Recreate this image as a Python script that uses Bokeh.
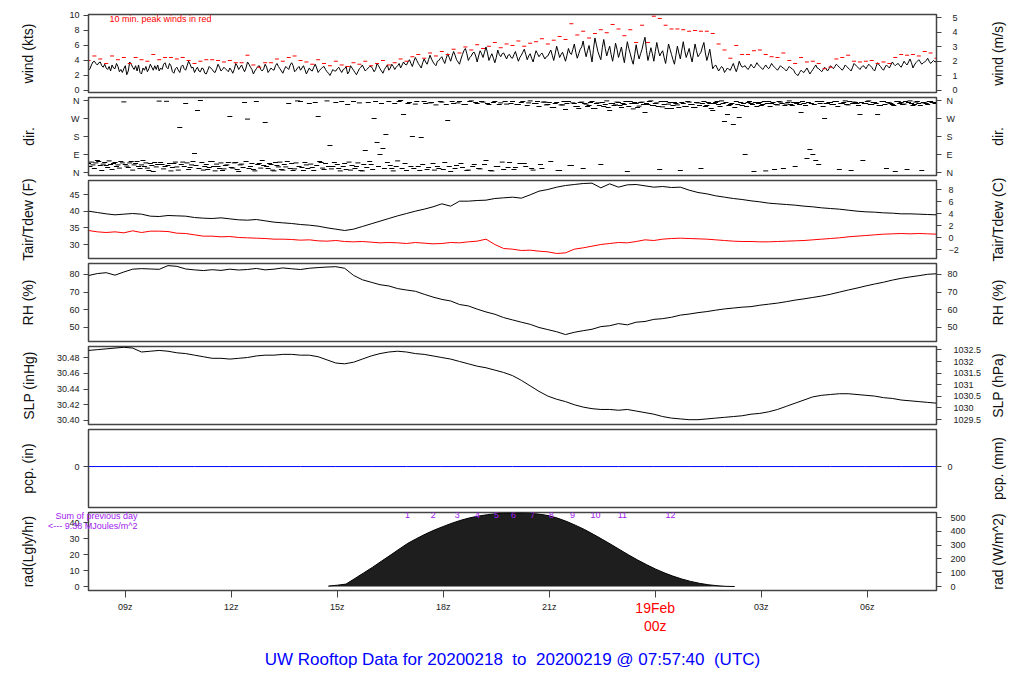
import math
import numpy as np
from bokeh.plotting import figure
from bokeh.layouts import column, row
from bokeh.models import Range1d, LinearAxis, FixedTicker, Title
from bokeh.core.properties import value
from bokeh.embed import file_html
from bokeh.resources import INLINE

# ---------------- data ----------------
T0 = 7 + 57 / 60 + 40 / 3600          # 07:57:40 UTC, 18 Feb (hours)
T1 = T0 + 24

# wind speed (kts), 2.5-minute samples from T0 (one row per hour)
wind_kts = [
    2.7, 2.9, 3.4, 3.8, 3.9, 3.6, 3.4, 3.7, 3.8, 3.3, 3.1, 3.5, 3.0, 2.8, 3.2, 2.6, 3.4, 3.0, 2.9, 3.6, 3.2, 2.5, 2.8, 2.4,
    2.9, 3.3, 2.1, 2.6, 3.8, 3.5, 3.1, 2.8, 3.3, 2.6, 3.4, 2.4, 2.2, 3.0, 2.7, 3.2, 2.5, 2.9, 3.5, 3.1, 2.7, 3.3, 2.8, 3.4,
    2.6, 3.0, 2.8, 3.5, 3.7, 3.1, 2.9, 3.6, 3.3, 2.5, 2.3, 2.9, 3.1, 2.7, 2.4, 3.2, 3.4, 2.9, 2.7, 3.3, 3.9, 3.5, 3.0, 3.1,
    2.4, 2.8, 3.1, 2.6, 2.5, 3.0, 2.9, 2.3, 2.2, 2.7, 3.2, 3.0, 2.8, 2.5, 2.4, 2.9, 3.5, 3.1, 2.6, 2.8, 3.1, 2.9, 2.7, 2.5,
    3.0, 2.7, 2.3, 2.8, 3.6, 3.3, 2.8, 3.1, 3.4, 2.9, 2.5, 3.0, 3.8, 3.5, 3.1, 2.8, 2.2, 2.6, 2.9, 3.2, 3.3, 2.8, 2.6, 2.9,
    3.5, 3.1, 2.4, 2.7, 3.0, 2.8, 2.7, 3.3, 3.6, 3.2, 2.9, 2.6, 2.3, 2.8, 3.2, 3.0, 2.8, 3.4, 3.7, 3.3, 2.5, 2.7, 3.0, 3.2,
    2.7, 3.0, 3.3, 2.8, 2.2, 2.6, 3.0, 2.7, 2.6, 3.1, 3.5, 3.0, 2.4, 2.7, 2.9, 3.1, 3.2, 2.8, 2.5, 2.3, 2.0, 2.4, 2.8, 2.6,
    2.6, 2.9, 3.1, 2.7, 2.4, 2.8, 2.9, 3.2, 2.2, 2.5, 3.3, 3.0, 2.7, 2.4, 2.1, 2.5, 2.9, 3.1, 3.4, 3.0, 2.6, 2.8, 3.0, 3.2,
    3.2, 2.9, 2.5, 2.8, 3.6, 3.3, 2.9, 2.6, 2.3, 2.8, 3.1, 3.4, 2.7, 3.0, 3.5, 3.2, 2.8, 3.1, 3.3, 3.6, 3.0, 3.4, 3.8, 3.5,
    3.4, 3.8, 4.1, 3.6, 3.2, 3.9, 4.4, 4.0, 3.6, 3.3, 3.0, 3.7, 4.2, 3.8, 3.5, 4.1, 4.7, 4.2, 3.8, 3.5, 3.3, 3.9, 4.0, 4.3,
    4.5, 4.0, 3.6, 4.3, 4.9, 4.4, 3.9, 4.6, 5.2, 4.7, 4.1, 3.8, 3.5, 4.2, 4.8, 5.3, 5.6, 4.9, 4.0, 4.4, 4.6, 5.0, 5.1, 4.6,
    3.8, 4.6, 5.3, 4.9, 4.4, 5.1, 5.8, 5.0, 4.0, 4.5, 4.9, 4.3, 3.7, 4.4, 5.4, 4.8, 4.5, 4.9, 5.0, 4.6, 4.2, 4.7, 4.8, 4.4,
    4.3, 4.8, 5.2, 4.5, 3.9, 4.4, 4.7, 5.1, 5.5, 4.8, 4.1, 4.6, 4.9, 4.3, 3.8, 4.6, 5.3, 4.9, 4.5, 4.8, 5.0, 4.6, 4.2, 4.5,
    4.6, 5.0, 5.4, 4.7, 4.0, 4.9, 5.9, 5.2, 4.4, 4.8, 5.1, 4.5, 3.9, 4.7, 5.6, 5.0, 4.8, 5.5, 6.2, 5.1, 4.3, 4.9, 5.5, 5.8,
    6.6, 5.4, 4.5, 5.3, 6.0, 4.9, 3.8, 5.5, 7.0, 6.1, 5.2, 4.6, 4.1, 5.7, 6.8, 5.6, 4.6, 5.3, 5.9, 4.8, 3.9, 5.0, 6.3, 5.5,
    4.4, 5.1, 5.8, 4.6, 3.7, 5.2, 6.5, 5.6, 4.9, 4.1, 3.5, 4.8, 6.1, 5.0, 4.2, 4.9, 5.5, 6.4, 7.1, 5.3, 4.0, 4.8, 5.7, 4.9,
    3.9, 5.2, 6.4, 5.4, 4.6, 5.0, 5.3, 4.4, 3.6, 4.9, 6.2, 5.5, 4.8, 4.1, 3.5, 4.7, 5.9, 5.0, 4.2, 5.4, 6.5, 5.3, 4.4, 5.0,
    5.6, 4.6, 3.8, 5.0, 6.2, 5.3, 4.5, 4.8, 5.1, 5.8, 6.4, 5.0, 4.0, 4.7, 5.5, 4.2, 2.9, 3.2, 3.4, 3.0, 2.6, 2.9, 3.2, 3.0,
    2.4, 2.7, 3.0, 2.8, 2.7, 3.2, 3.6, 3.0, 2.5, 3.1, 3.9, 3.4, 3.1, 3.2, 3.3, 3.0, 2.8, 3.1, 3.5, 3.2, 3.0, 3.3, 3.7, 3.4,
    3.2, 3.0, 2.8, 3.1, 3.4, 3.1, 2.9, 3.2, 3.6, 3.3, 3.1, 2.9, 2.7, 3.0, 3.3, 3.1, 3.0, 2.8, 2.6, 2.9, 3.2, 3.0, 2.9, 2.7,
    2.3, 2.1, 2.0, 2.4, 2.7, 2.5, 2.4, 2.7, 3.0, 2.6, 2.2, 2.5, 2.8, 3.1, 3.4, 3.0, 2.9, 2.7, 2.5, 2.8, 3.1, 2.9, 2.6, 2.9,
    3.3, 3.1, 2.9, 3.2, 3.5, 3.3, 3.1, 2.9, 2.7, 3.0, 3.4, 3.2, 3.0, 2.8, 2.6, 3.1, 3.6, 3.4, 3.2, 3.0, 2.8, 3.1, 3.3, 3.2,
    2.9, 3.2, 3.5, 3.3, 3.1, 2.8, 2.6, 3.2, 3.7, 3.4, 3.2, 2.9, 2.7, 3.1, 3.4, 3.2, 3.0, 3.4, 3.8, 3.5, 3.3, 3.5, 3.6, 3.3,
    3.1, 3.5, 3.9, 3.6, 3.4, 3.8, 4.2, 3.7, 3.0, 3.4, 3.7, 3.9, 4.1, 3.8, 3.5, 3.7, 3.8, 4.0, 4.3, 3.9, 3.6, 3.8, 4.0, 3.8,
    3.9,
]

# 10-minute peak winds (kts), 10-minute samples from T0
peak_kts = [
    4.0, 4.6, 4.2, 3.6, 4.6, 4.1, 4.4, 3.6, 4.4, 4.1, 3.9, 4.8,
    4.1, 4.4, 4.4, 4.2, 4.4, 4.0, 3.6, 3.9, 4.1, 4.1, 4.0, 3.8,
    4.0, 3.7, 3.7, 4.7, 3.4, 3.1, 3.7, 3.7, 4.2, 3.9, 4.4, 4.6,
    4.0, 3.8, 3.5, 4.1, 3.6, 3.3, 3.9, 3.4, 3.2, 3.7, 3.5, 3.9,
    3.3, 3.6, 4.0, 3.4, 3.7, 4.2, 3.9, 4.5, 4.8, 4.3, 5.0, 4.6,
    5.2, 4.8, 5.5, 5.0, 5.8, 5.4, 6.1, 5.6, 5.9, 6.4, 5.7, 6.2,
    6.0, 6.6, 5.9, 6.3, 6.5, 6.9, 6.2, 6.7, 7.2, 6.8, 8.9, 7.4,
    7.9, 7.0, 7.6, 8.1, 7.7, 8.8, 8.2, 7.3, 8.1, 6.4, 8.7, 6.4,
    9.9, 9.6, 8.7, 8.2, 8.2, 8.1, 7.9, 8.0, 7.9, 7.9, 7.6, 6.2,
    5.4, 4.3, 6.0, 4.8, 4.8, 5.3, 5.4, 4.8, 4.5, 4.4, 5.0, 4.0,
    3.6, 4.4, 3.8, 3.9, 3.6, 2.9, 3.1, 4.2, 4.4, 4.7, 3.9, 3.8,
    3.9, 4.0, 3.6, 3.8, 3.6, 4.4, 4.8, 4.7, 4.8, 4.6, 5.2, 5.0,
    4.3,
]

# wind direction (deg), 2.5-minute samples from T0 (one row per hour)
dir_deg = [
    45, 30, 52, 38, 20, 48, 60, 55, 35, 10, 42, 50, 35, 25, 58, 40, 15, 45, 50, 30, 38, 22, 55, 48,
    353, 40, 32, 25, 48, 55, 12, 38, 45, 55, 30, 20, 38, 60, 30, 48, 22, 10, 45, 35, 5, 50, 28, 40,
    357, 50, 40, 18, 30, 356, 35, 45, 8, 25, 45, 52, 28, 12, 225, 40, 52, 30, 345, 48, 15, 25, 38, 55,
    95, 35, 310, 20, 360, 50, 12, 30, 40, 15, 25, 55, 55, 30, 8, 42, 30, 20, 48, 10, 18, 35, 38, 50,
    280, 25, 22, 48, 50, 15, 5, 38, 42, 25, 350, 55, 267, 20, 30, 45, 15, 8, 355, 40, 45, 22, 60, 35,
    250, 30, 20, 45, 40, 12, 8, 50, 35, 28, 52, 15, 12, 40, 28, 55, 345, 20, 45, 10, 18, 48, 358, 30,
    355, 25, 10, 50, 38, 20, 345, 42, 25, 10, 350, 35, 280, 55, 50, 22, 15, 45, 358, 30, 135, 18, 30, 50,
    350, 40, 20, 8, 355, 30, 45, 15, 340, 52, 12, 35, 355, 20, 30, 48, 348, 10, 8, 40, 110, 25, 350, 55,
    40, 15, 270, 355, 150, 30, 90, 345, 120, 20, 190, 50, 355, 35, 20, 8, 345, 30, 58, 355, 360, 20, 290, 45,
    10, 345, 350, 30, 180, 20, 342, 355, 30, 10, 175, 40, 355, 345, 15, 25, 348, 350, 45, 12, 338, 30, 20, 355,
    352, 15, 50, 340, 260, 30, 5, 355, 345, 20, 35, 348, 355, 45, 25, 340, 340, 10, 12, 355, 358, 30, 40, 350,
    345, 20, 18, 355, 352, 40, 60, 345, 340, 10, 8, 350, 355, 30, 30, 340, 348, 52, 15, 355, 342, 25, 50, 345,
    355, 15, 25, 340, 340, 45, 350, 355, 45, 30, 335, 348, 358, 20, 12, 345, 345, 355, 330, 40, 20, 352, 352, 338,
    340, 350, 55, 325, 325, 345, 350, 10, 10, 338, 338, 355, 315, 345, 355, 35, 35, 348, 345, 330, 330, 320, 350, 352,
    20, 345, 342, 330, 335, 350, 355, 320, 320, 345, 348, 335, 40, 350, 330, 340, 358, 325, 310, 345, 345, 335, 338, 352,
    350, 335, 325, 345, 340, 355, 5, 330, 355, 345, 318, 350, 345, 325, 332, 350, 352, 340, 300, 345, 340, 355, 358, 335,
    335, 345, 348, 330, 15, 355, 328, 340, 355, 320, 342, 350, 320, 335, 350, 345, 338, 325, 10, 350, 345, 330, 330, 355,
    352, 340, 340, 325, 325, 350, 348, 335, 20, 345, 355, 330, 335, 350, 345, 320, 310, 345, 350, 355, 340, 330, 358, 345,
    255, 350, 290, 335, 340, 345, 240, 325, 355, 340, 275, 350, 335, 345, 90, 330, 350, 355, 345, 340, 5, 350, 330, 345,
    350, 335, 340, 355, 8, 345, 355, 330, 345, 350, 15, 340, 338, 355, 352, 345, 20, 335, 342, 350, 358, 340, 335, 350,
    30, 345, 350, 340, 300, 355, 345, 335, 70, 350, 115, 345, 90, 340, 60, 355, 40, 345, 355, 330, 270, 345, 345, 350,
    350, 340, 340, 355, 355, 330, 15, 345, 345, 350, 358, 340, 338, 355, 10, 345, 352, 350, 345, 335, 290, 350, 60, 345,
    345, 355, 358, 340, 340, 350, 350, 345, 290, 335, 335, 355, 355, 340, 20, 350, 348, 345, 340, 335, 5, 355, 355, 345,
    350, 340, 342, 355, 15, 350, 358, 345, 335, 340, 352, 355, 345, 335, 10, 350, 348, 345, 340, 355, 355, 350, 350, 345,
    345,
]

# air temperature and dew point (F), 15-minute samples from T0
tair_f = [
    40.0, 39.6, 39.2, 38.9, 39.1, 39.3, 39.1, 38.5, 38.4, 38.7, 38.6, 38.5,
    38.1, 37.9, 37.8, 38.0, 37.7, 37.4, 37.3, 37.5, 37.1, 36.7, 36.5, 36.3,
    36.0, 35.8, 35.5, 35.0, 34.6, 34.2, 34.6, 35.4, 36.2, 37.0, 37.8, 38.6,
    39.3, 40.0, 40.6, 41.3, 42.2, 41.5, 43.0, 43.0, 43.2, 43.3, 43.8, 44.0,
    44.2, 43.9, 44.9, 46.0, 46.5, 47.2, 47.7, 48.0, 48.3, 48.4, 47.0, 48.2,
    47.2, 47.9, 48.0, 47.6, 47.2, 47.4, 47.1, 47.2, 46.3, 45.6, 45.2, 44.6,
    44.2, 43.8, 43.5, 43.1, 42.8, 42.4, 42.2, 42.0, 41.8, 41.5, 41.3, 41.0,
    40.8, 40.6, 40.3, 40.0, 39.8, 39.7, 39.5, 39.4, 39.2, 39.2, 39.1, 39.0,
    38.9,
]
tdew_f = [
    34.2, 33.8, 33.6, 33.8, 33.5, 34.1, 33.6, 34.0, 34.0, 33.9, 33.4, 33.3,
    32.9, 32.5, 32.5, 32.3, 32.4, 32.1, 32.0, 31.9, 31.8, 31.6, 31.6, 31.5,
    31.3, 31.4, 31.1, 31.0, 31.2, 30.9, 30.8, 30.9, 30.7, 30.5, 30.6, 30.5,
    30.3, 30.6, 30.4, 30.2, 30.3, 30.6, 30.5, 30.8, 31.0, 31.6, 30.0, 28.8,
    28.6, 28.2, 28.3, 28.0, 27.8, 27.3, 27.5, 28.6, 29.0, 29.5, 30.0, 30.3,
    30.6, 30.5, 30.9, 31.4, 31.2, 31.6, 31.8, 31.9, 31.8, 31.7, 31.6, 31.4,
    31.2, 31.0, 30.9, 30.9, 30.8, 30.8, 30.9, 31.0, 31.1, 31.2, 31.4, 31.6,
    31.8, 32.0, 32.3, 32.5, 32.7, 32.9, 33.1, 33.2, 33.3, 33.2, 33.3, 33.2,
    33.1,
]

# relative humidity (%), 15-minute samples from T0
rh_pct = [
    79.4, 80.5, 81.0, 79.6, 81.4, 83.0, 83.3, 83.1, 82.9, 85.0, 84.6, 83.1,
    82.6, 82.2, 82.7, 82.3, 83.0, 82.5, 82.8, 83.4, 82.6, 83.0, 83.7, 83.2,
    82.8, 83.5, 83.9, 84.2, 84.4, 83.5, 79.5, 77.0, 75.6, 74.2, 73.5, 72.0,
    71.2, 70.5, 68.8, 67.2, 65.9, 65.0, 63.0, 62.2, 60.4, 58.8, 57.5, 55.6,
    54.3, 53.0, 51.8, 50.0, 48.8, 47.6, 46.0, 47.3, 48.2, 49.0, 50.5, 51.0,
    52.2, 51.5, 53.0, 53.4, 54.6, 55.0, 55.8, 57.0, 57.6, 58.4, 59.0, 59.8,
    60.5, 61.0, 61.5, 61.8, 62.6, 63.2, 63.8, 64.6, 65.5, 66.2, 67.0, 67.8,
    68.8, 70.0, 71.2, 72.3, 73.5, 74.6, 75.6, 76.8, 77.8, 78.6, 79.3, 80.1,
    80.4,
]

# sea-level pressure (inHg), 15-minute samples from T0
slp_inhg = [
    30.489, 30.490, 30.491, 30.492, 30.493, 30.492, 30.487, 30.488, 30.489, 30.488, 30.486, 30.485,
    30.483, 30.481, 30.479, 30.479, 30.478, 30.479, 30.480, 30.482, 30.483, 30.483, 30.484, 30.484,
    30.483, 30.483, 30.481, 30.477, 30.473, 30.472, 30.474, 30.478, 30.482, 30.485, 30.487, 30.488,
    30.487, 30.485, 30.484, 30.482, 30.480, 30.478, 30.475, 30.472, 30.469, 30.467, 30.464, 30.461,
    30.457, 30.451, 30.444, 30.437, 30.431, 30.427, 30.424, 30.420, 30.417, 30.415, 30.414, 30.414,
    30.413, 30.414, 30.412, 30.410, 30.408, 30.405, 30.403, 30.402, 30.401, 30.401, 30.402, 30.403,
    30.404, 30.405, 30.406, 30.408, 30.409, 30.411, 30.414, 30.418, 30.422, 30.426, 30.430, 30.432,
    30.433, 30.434, 30.434, 30.433, 30.432, 30.431, 30.429, 30.428, 30.426, 30.425, 30.424, 30.423,
    30.422,
]

# precipitation (in), hourly from T0 (none fell)
pcp_in = [0.0] * 25

# solar radiation (Langley/hr), 15-minute samples starting 14:45z
rad_start = 14.75
rad_lgly = [
    0.3, 0.8, 1.5, 5.0, 8.5, 12.0, 15.8, 19.5, 23.3, 27.0, 30.0, 32.8,
    35.3, 37.5, 39.6, 41.4, 42.9, 44.0, 44.9, 45.5, 45.9, 46.0, 46.0, 45.7,
    45.1, 44.2, 42.6, 40.6, 38.2, 35.6, 32.6, 29.5, 26.3, 23.0, 19.7, 16.6,
    13.7, 11.0, 8.6, 6.5, 4.7, 3.2, 2.0, 1.1, 0.5, 0.1, 0.0,
]
# times (hours) at which each accumulated MJ/m^2 was reached
mj_count = [1, 2, 3, 4, 5, 6, 7, 8, 9, 10, 11, 12]
mj_time = [16.99, 17.72, 18.40, 18.97, 19.51, 19.99, 20.53, 21.06, 21.66, 22.31, 23.07, 24.43]

x_ticks = [9, 12, 15, 18, 21, 24, 27, 30]
x_labels = ["09z", "12z", "15z", "18z", "21z", "", "03z", "06z"]

right_titles = ["wind (m/s)", "dir.", "Tair/Tdew (C)", "RH (%)", "SLP (hPa)", "pcp. (mm)", "rad (W/m^2)"]
NB = "\u00a0"
title_text = ("UW Rooftop Data for 20200218 " + NB + "to " + NB + "20200219 @ 07:57:40 "
              + NB + "(UTC)")

# ---------------- helpers ----------------
FONT = "Liberation Sans"
TXT = "#222222"
EDGE = "#444444"
PURPLE = "#a020f0"
LEFT = 88
FRAME_W = 848
RIGHT = 48
FRAME_H = 78
xr = Range1d(T0, T1)

t_wind = T0 + np.arange(len(wind_kts)) * 2.5 / 60
t10 = T0 + np.arange(len(peak_kts)) * 10 / 60
t_dir = T0 + np.arange(len(dir_deg)) * 2.5 / 60
t15 = T0 + np.arange(len(tair_f)) * 0.25
t60 = T0 + np.arange(len(pcp_in)) * 1.0
trad = rad_start + np.arange(len(rad_lgly)) * 0.25


def panel(ylo, yhi, top=2, bottom=3, xaxis=False):
    p = figure(frame_width=FRAME_W, frame_height=FRAME_H, x_range=xr,
               y_range=Range1d(ylo, yhi),
               x_axis_location="below" if xaxis else None,
               min_border_left=LEFT, min_border_right=RIGHT,
               min_border_top=top, min_border_bottom=bottom,
               output_backend="svg", toolbar_location=None)
    p.grid.visible = False
    p.outline_line_color = EDGE
    p.outline_line_width = 1.5
    p.background_fill_color = "white"
    p.border_fill_color = "white"
    return p


def style_axis(ax, ticks, label, lab_standoff, tick_standoff, overrides=None):
    ax.ticker = FixedTicker(ticks=ticks)
    ax.bounds = (min(ticks), max(ticks))
    ax.major_tick_out = 5
    ax.major_tick_in = 0
    ax.minor_tick_out = 0
    ax.minor_tick_in = 0
    ax.major_label_standoff = tick_standoff
    ax.major_label_text_font = FONT
    ax.major_label_text_font_size = "9px"
    ax.major_label_text_color = TXT
    ax.axis_line_color = EDGE
    ax.major_tick_line_color = EDGE
    if label:
        ax.axis_label = label
        ax.axis_label_text_font = FONT
        ax.axis_label_text_font_size = "14px"
        ax.axis_label_text_font_style = "normal"
        ax.axis_label_text_color = "#111111"
        ax.axis_label_standoff = lab_standoff
    if overrides:
        ax.major_label_overrides = overrides


def add_right(p, lo, hi, ticks, tick_standoff, overrides=None):
    p.extra_y_ranges = {"r": Range1d(lo, hi)}
    ax = LinearAxis(y_range_name="r")
    style_axis(ax, ticks, None, 0, tick_standoff, overrides)
    p.add_layout(ax, "right")


KT2MS = 0.514444
IN2HPA = 33.8639
LY2W = 11.622

# ---------------- wind ----------------
w_lo, w_hi = -0.27, 10.13
p1 = panel(w_lo, w_hi, top=14)
p1.line(t_wind, wind_kts, line_color="black", line_width=1)
p1.scatter(t10, peak_kts, marker="dash", size=4, line_color="red", line_width=1)
p1.text(x=[10.0], y=[9.47], text=["10 min. peak winds in red"], text_font=value(FONT),
        text_font_size="9px", text_color="red", text_align="center", text_baseline="middle")
style_axis(p1.yaxis[0], [0, 2, 4, 6, 8, 10], "wind (kts)", 30, 4)
add_right(p1, w_lo * KT2MS, w_hi * KT2MS, [0, 1, 2, 3, 4, 5], 11)

# ---------------- direction ----------------
p2 = panel(-15, 375)
p2.scatter(t_dir, dir_deg, marker="dash", size=5, line_color="black", line_width=1)
dir_over = {0: "N", 90: "E", 180: "S", 270: "W", 360: "N"}
style_axis(p2.yaxis[0], [0, 90, 180, 270, 360], "dir.", 31, 4, dir_over)
add_right(p2, -15, 375, [0, 90, 180, 270, 360], 5, dir_over)

# ---------------- temperature ----------------
t_lo, t_hi = 25.8, 49.2
p3 = panel(t_lo, t_hi)
p3.line(t15, tair_f, line_color="black", line_width=1)
p3.line(t15, tdew_f, line_color="red", line_width=1)
style_axis(p3.yaxis[0], [30, 35, 40, 45], "Tair/Tdew (F)", 30, 4)
add_right(p3, (t_lo - 32) / 1.8, (t_hi - 32) / 1.8, [-2, 0, 2, 4, 6, 8], 7)

# ---------------- RH ----------------
p4 = panel(42.08, 86.2)
p4.line(t15, rh_pct, line_color="black", line_width=1)
style_axis(p4.yaxis[0], [50, 60, 70, 80], "RH (%)", 30, 4)
add_right(p4, 42.08, 86.2, [50, 60, 70, 80], 6)

# ---------------- SLP ----------------
s_lo, s_hi = 30.3949, 30.4940
p5 = panel(s_lo, s_hi)
p5.line(t15, slp_inhg, line_color="black", line_width=1)
slp_ticks = [30.40, 30.42, 30.44, 30.46, 30.48]
style_axis(p5.yaxis[0], slp_ticks, "SLP (inHg)", 17, 4,
           {v: "%.2f" % v for v in slp_ticks})
hpa_ticks = [1029.5, 1030.0, 1030.5, 1031.0, 1031.5, 1032.0, 1032.5]
add_right(p5, s_lo * IN2HPA, s_hi * IN2HPA, hpa_ticks, 12,
          {v: ("%g" % v) for v in hpa_ticks})

# ---------------- precipitation ----------------
p6 = panel(-1.05, 0.95)
p6.line(t60, pcp_in, line_color="blue", line_width=1)
style_axis(p6.yaxis[0], [0], "pcp. (in)", 35, 4)
add_right(p6, -1.05 * 25.4, 0.95 * 25.4, [0], 6)

# ---------------- radiation ----------------
r_lo, r_hi = -2.5, 46.25
p7 = panel(r_lo, r_hi, bottom=0, xaxis=True)
p7.varea(x=trad, y1=np.zeros(len(rad_lgly)), y2=rad_lgly, fill_color="#1e1e1e")
p7.line(trad, rad_lgly, line_color="black", line_width=1)
p7.text(x=mj_time, y=[44.4] * len(mj_time), text=[str(n) for n in mj_count],
        text_font=value(FONT), text_font_size="9px", text_color=PURPLE,
        text_align="center", text_baseline="middle")
style_axis(p7.yaxis[0], [0, 10, 20, 30, 40], "rad(Lgly/hr)", 30, 4)
add_right(p7, r_lo * LY2W, r_hi * LY2W, [0, 100, 200, 300, 400, 500], 9)

# note about previous day's total: an outer left axis whose labels sit over the panel corner
note_ax = LinearAxis(ticker=FixedTicker(ticks=[38.1, 44.4]))
note_ax.major_label_overrides = {44.4: "Sum of previous day", 38.1: "<--- 9.38 MJoules/m^2"}
note_ax.axis_line_color = None
note_ax.major_tick_line_color = None
note_ax.minor_tick_line_color = None
note_ax.major_tick_out = 0
note_ax.major_tick_in = 0
note_ax.minor_tick_out = 0
note_ax.major_label_standoff = -120
note_ax.major_label_text_font = FONT
note_ax.major_label_text_font_size = "9px"
note_ax.major_label_text_color = PURPLE
p7.add_layout(note_ax, "left")

xa = p7.xaxis[0]
xa.ticker = FixedTicker(ticks=x_ticks)
xa.bounds = (min(x_ticks), max(x_ticks))
xa.major_label_overrides = {t: l for t, l in zip(x_ticks, x_labels)}
xa.major_tick_out = 7
xa.major_tick_in = 0
xa.minor_tick_out = 0
xa.minor_tick_in = 0
xa.major_label_standoff = 4
xa.major_label_text_font = FONT
xa.major_label_text_font_size = "9px"
xa.major_label_text_color = TXT
xa.axis_line_color = EDGE
xa.major_tick_line_color = EDGE


def date_axis(text, standoff):
    ax = LinearAxis(ticker=FixedTicker(ticks=[24]))
    ax.major_label_overrides = {24: text}
    ax.axis_line_color = None
    ax.major_tick_line_color = None
    ax.minor_tick_line_color = None
    ax.major_tick_out = 0
    ax.major_tick_in = 0
    ax.minor_tick_out = 0
    ax.major_label_standoff = standoff
    ax.major_label_text_font = FONT
    ax.major_label_text_font_size = "14px"
    ax.major_label_text_color = "red"
    p7.add_layout(ax, "below")


date_axis("19Feb", -15)
date_axis("00z", -1)

title = Title(text=title_text, align="center", text_font=FONT, text_font_size="17px",
              text_font_style="normal", text_color="blue", standoff=22)
p7.add_layout(title, "below")

# right-hand axis titles, read bottom-to-top as in the original
panel_mid = [14 + FRAME_H / 2 + i * (FRAME_H + 5) for i in range(7)]
H_R = 600
rfig = figure(frame_width=32, frame_height=H_R, x_range=Range1d(0, 32),
              y_range=Range1d(0, H_R), min_border=0, x_axis_location=None,
              y_axis_location=None, output_backend="svg", toolbar_location=None)
rfig.grid.visible = False
rfig.outline_line_color = None
rfig.text(x=[13] * 7, y=[H_R - m for m in panel_mid], text=right_titles, angle=math.pi / 2,
          text_font=value(FONT), text_font_size="14px", text_color="#111111",
          text_align="center", text_baseline="middle")

layout = row(column(p1, p2, p3, p4, p5, p6, p7, spacing=0), rfig, spacing=0)
open("out.html", "w").write(file_html(layout, INLINE))
